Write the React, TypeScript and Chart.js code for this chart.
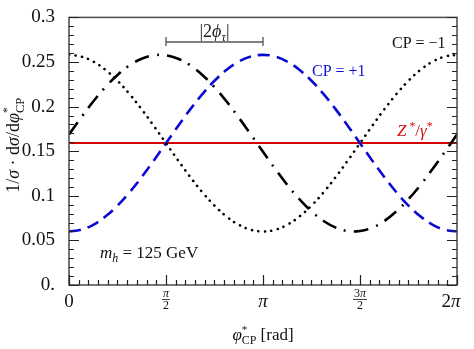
import React, { useEffect, useRef } from 'react';
import { Chart, registerables } from 'chart.js';

Chart.register(...registerables);

// φ*_CP sampling points (rad)
const phi = [
  0, 0.1963, 0.3927, 0.589, 0.7854, 0.9817, 1.1781, 1.3744, 1.5708, 1.7671, 1.9635,
  2.1598, 2.3562, 2.5525, 2.7489, 2.9452, 3.1416, 3.3379, 3.5343, 3.7306, 3.927,
  4.1233, 4.3197, 4.516, 4.7124, 4.9087, 5.1051, 5.3014, 5.4978, 5.6941, 5.8905,
  6.0868, 6.2832,
];

// CP = -1 (dotted)
const cpMinus = [
  0.258, 0.2561, 0.2505, 0.2413, 0.229, 0.214, 0.1969, 0.1783, 0.159, 0.1397, 0.1211,
  0.104, 0.089, 0.0767, 0.0675, 0.0619, 0.06, 0.0619, 0.0675, 0.0767, 0.089, 0.104,
  0.1211, 0.1397, 0.159, 0.1783, 0.1969, 0.214, 0.229, 0.2413, 0.2505, 0.2561, 0.258,
];

// CP = +1 (dashed blue)
const cpPlus = [
  0.06, 0.0619, 0.0675, 0.0767, 0.089, 0.104, 0.1211, 0.1397, 0.159, 0.1783, 0.1969,
  0.214, 0.229, 0.2413, 0.2505, 0.2561, 0.258, 0.2561, 0.2505, 0.2413, 0.229, 0.214,
  0.1969, 0.1783, 0.159, 0.1397, 0.1211, 0.104, 0.089, 0.0767, 0.0675, 0.0619, 0.06,
];

// mixed CP state (dash-dot)
const cpMixed = [
  0.1687, 0.1877, 0.2057, 0.2218, 0.2355, 0.2463, 0.2537, 0.2575, 0.2575, 0.2537, 0.2463,
  0.2355, 0.2218, 0.2057, 0.1877, 0.1687, 0.1493, 0.1303, 0.1123, 0.0962, 0.0825, 0.0717,
  0.0643, 0.0605, 0.0605, 0.0643, 0.0717, 0.0825, 0.0962, 0.1123, 0.1303, 0.1493, 0.1687,
];

// Z*/γ* (flat)
const zPhi = [0, 6.2832];
const zVals = [0.1592, 0.1592];

const yTickLabels = ['0.', '0.05', '0.1', '0.15', '0.2', '0.25', '0.3'];
const xMajorValues = [0, 1.5708, 3.1416, 4.7124, 6.2832];

const FAM = "'Liberation Serif', 'Times New Roman', serif";

type Seg = { t: string; it?: boolean; sz?: number; dy?: number; noAdv?: boolean };

function segFont(s: Seg, base: number) {
  const size = base * (s.sz ?? 1);
  return `${s.it ? 'italic ' : ''}${size}px ${FAM}`;
}

function richWidth(ctx: CanvasRenderingContext2D, segs: Seg[], base: number) {
  let w = 0;
  for (const s of segs) {
    ctx.font = segFont(s, base);
    if (!s.noAdv) w += ctx.measureText(s.t).width;
  }
  return w;
}

function drawRich(
  ctx: CanvasRenderingContext2D,
  segs: Seg[],
  x: number,
  y: number,
  base: number,
  color: string,
  align: 'left' | 'center' = 'left'
) {
  ctx.save();
  ctx.fillStyle = color;
  ctx.textBaseline = 'alphabetic';
  ctx.textAlign = 'left';
  let cx = align === 'center' ? x - richWidth(ctx, segs, base) / 2 : x;
  for (const s of segs) {
    ctx.font = segFont(s, base);
    ctx.fillText(s.t, cx, y + (s.dy ?? 0) * base);
    if (!s.noAdv) cx += ctx.measureText(s.t).width;
  }
  ctx.restore();
}

const decorPlugin = {
  id: 'decor',
  afterDraw(chart: any) {
    const ctx: CanvasRenderingContext2D = chart.ctx;
    const { left, right, top, bottom } = chart.chartArea;
    const xs = chart.scales.x;
    const ys = chart.scales.y;
    const gray = '#4a4a4a';

    ctx.save();
    // frame
    ctx.strokeStyle = gray;
    ctx.lineWidth = 1.5;
    ctx.strokeRect(left, top, right - left, bottom - top);

    // y ticks left & right
    ctx.lineWidth = 1.2;
    ctx.strokeStyle = '#222';
    for (let i = 0; i <= 30; i++) {
      const y = Math.round(ys.getPixelForValue(i * 0.01)) + 0.5;
      const len = i % 5 === 0 ? 10 : 5;
      ctx.beginPath();
      ctx.moveTo(left, y);
      ctx.lineTo(left + len, y);
      ctx.moveTo(right, y);
      ctx.lineTo(right - len, y);
      ctx.stroke();
    }
    // x ticks bottom
    for (let k = 0; k <= 40; k++) {
      const x = Math.round(xs.getPixelForValue((k * Math.PI) / 20)) + 0.5;
      const len = k % 10 === 0 ? 10 : 5;
      ctx.beginPath();
      ctx.moveTo(x, bottom);
      ctx.lineTo(x, bottom - len);
      ctx.stroke();
    }
    ctx.restore();

    // x tick labels
    const lblY = bottom + 22;
    const ink = '#111';
    const x0 = xs.getPixelForValue(xMajorValues[0]);
    const x1 = xs.getPixelForValue(xMajorValues[1]);
    const x2 = xs.getPixelForValue(xMajorValues[2]);
    const x3 = xs.getPixelForValue(xMajorValues[3]);
    const x4 = xs.getPixelForValue(xMajorValues[4]);
    drawRich(ctx, [{ t: '0' }], x0, lblY, 19, ink, 'center');
    drawRich(ctx, [{ t: 'π', it: true }], x2, lblY, 19, ink, 'center');
    drawRich(ctx, [{ t: '2' }, { t: 'π', it: true }], x4 - 6, lblY, 19, ink, 'center');
    const frac = (cx: number, num: Seg[]) => {
      const fs = 12;
      const w = richWidth(ctx, num, fs);
      drawRich(ctx, num, cx, bottom + 12, fs, ink, 'center');
      ctx.save();
      ctx.strokeStyle = ink;
      ctx.lineWidth = 0.8;
      ctx.beginPath();
      ctx.moveTo(cx - w / 2 - 1, bottom + 14.5);
      ctx.lineTo(cx + w / 2 + 1, bottom + 14.5);
      ctx.stroke();
      ctx.restore();
      drawRich(ctx, [{ t: '2' }], cx, bottom + 24, fs, ink, 'center');
    };
    frac(x1, [{ t: 'π', it: true }]);
    frac(x3, [{ t: '3' }, { t: 'π', it: true }]);

    // x title
    drawRich(
      ctx,
      [
        { t: 'φ', it: true },
        { t: '*', sz: 0.65, dy: -0.42, noAdv: true },
        { t: 'CP', sz: 0.7, dy: 0.25 },
        { t: ' [rad]' },
      ],
      (left + right) / 2,
      bottom + 55,
      17,
      ink,
      'center'
    );

    // y title (rotated)
    ctx.save();
    ctx.translate(19, (top + bottom) / 2 - 6);
    ctx.rotate(-Math.PI / 2);
    drawRich(
      ctx,
      [
        { t: '1/' },
        { t: 'σ', it: true },
        { t: ' · d' },
        { t: 'σ', it: true },
        { t: '/d' },
        { t: 'φ', it: true },
        { t: '*', sz: 0.65, dy: -0.42, noAdv: true },
        { t: 'CP', sz: 0.7, dy: 0.25 },
      ],
      0,
      0,
      18,
      ink,
      'center'
    );
    ctx.restore();

    // |2φτ| bracket
    const ya = 42;
    ctx.save();
    ctx.strokeStyle = '#555';
    ctx.lineWidth = 1.3;
    ctx.beginPath();
    ctx.moveTo(x1, ya);
    ctx.lineTo(x2, ya);
    ctx.moveTo(x1, ya - 5);
    ctx.lineTo(x1, ya + 4);
    ctx.moveTo(x2, ya - 5);
    ctx.lineTo(x2, ya + 4);
    ctx.stroke();
    ctx.restore();
    drawRich(
      ctx,
      [{ t: '|2' }, { t: 'ϕ', it: true }, { t: 'τ', it: true, sz: 0.7, dy: 0.2 }, { t: '|' }],
      (x1 + x2) / 2,
      37,
      18,
      '#222',
      'center'
    );

    // annotations
    drawRich(ctx, [{ t: 'CP = −1' }], 392, 48, 16, '#111');
    drawRich(ctx, [{ t: 'CP = +1' }], 312, 76, 16, '#1010d0');
    drawRich(
      ctx,
      [
        { t: 'Z', it: true },
        { t: ' *', sz: 0.7, dy: -0.35 },
        { t: '/' },
        { t: 'γ', it: true },
        { t: '*', sz: 0.7, dy: -0.35 },
      ],
      397,
      136,
      17,
      '#d01010'
    );
    drawRich(
      ctx,
      [{ t: 'm', it: true }, { t: 'h', it: true, sz: 0.7, dy: 0.22 }, { t: ' = 125 GeV' }],
      100,
      258,
      17,
      '#111'
    );
  },
};

export default function App() {
  const ref = useRef<HTMLCanvasElement | null>(null);

  useEffect(() => {
    if (!ref.current) return;
    const pts = (ys: number[], xsArr: number[] = phi) => ys.map((y, i) => ({ x: xsArr[i], y }));
    const chart = new Chart(ref.current, {
      type: 'line',
      data: {
        datasets: [
          {
            label: 'CP = -1',
            data: pts(cpMinus),
            borderColor: '#000',
            borderWidth: 2.6,
            borderDash: [0.1, 6.4],
            borderCapStyle: 'round',
            pointRadius: 0,
            tension: 0.4,
          },
          {
            label: 'CP = +1',
            data: pts(cpPlus),
            borderColor: '#0a0ad2',
            borderWidth: 2.6,
            borderDash: [12, 7],
            pointRadius: 0,
            tension: 0.4,
          },
          {
            label: 'mixed',
            data: pts(cpMixed),
            borderColor: '#000',
            borderWidth: 2.6,
            borderDash: [15, 8, 2, 8],
            pointRadius: 0,
            tension: 0.4,
          },
          {
            label: 'Z*/γ*',
            data: pts(zVals, zPhi),
            borderColor: '#d40000',
            borderWidth: 2.2,
            pointRadius: 0,
          },
        ],
      } as any,
      options: {
        animation: false,
        responsive: false,
        devicePixelRatio: 1,
        layout: { padding: { top: 14, right: 17, left: 0, bottom: 0 } },
        plugins: { legend: { display: false }, tooltip: { enabled: false } },
        scales: {
          x: {
            type: 'linear',
            min: 0,
            max: 6.2832,
            grid: { display: false },
            border: { display: false },
            ticks: { display: false },
            afterFit: (s: any) => {
              s.height = 64;
            },
          },
          y: {
            type: 'linear',
            min: 0,
            max: 0.3,
            grid: { display: false },
            border: { display: false },
            ticks: {
              stepSize: 0.05,
              padding: 6,
              color: '#111',
              font: { family: FAM, size: 19 },
              callback: (v: any) => yTickLabels[Math.round(Number(v) / 0.05)] ?? '',
            },
            afterFit: (s: any) => {
              s.width = 69;
            },
          },
        },
      } as any,
      plugins: [decorPlugin],
    });
    return () => chart.destroy();
  }, []);

  return (
    <div style={{ position: 'fixed', left: 0, top: 0, width: 474, height: 349, background: '#fff' }}>
      <canvas ref={ref} width={474} height={349} style={{ display: 'block', width: 474, height: 349 }} />
    </div>
  );
}
